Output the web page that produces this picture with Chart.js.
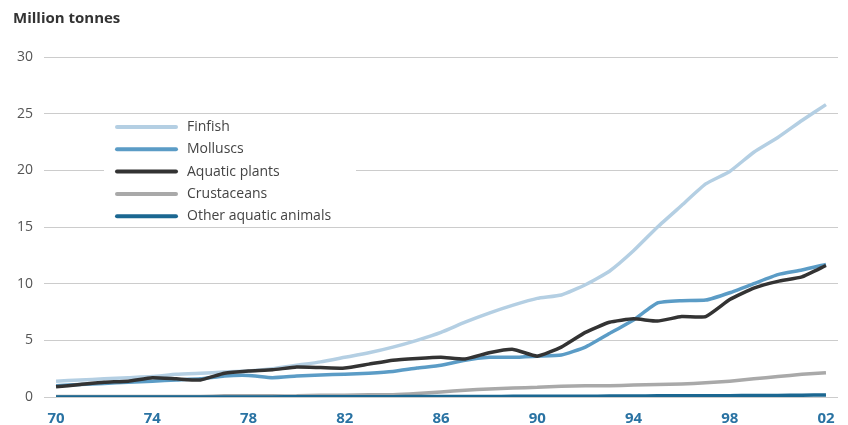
<!DOCTYPE html>
<html>
<head>
<meta charset="utf-8">
<script src="https://cdn.jsdelivr.net/npm/chart.js@4/dist/chart.umd.min.js"></script>
<style>
  html, body { margin: 0; padding: 0; background: #fff; }
  #wrap { width: 848px; height: 425px; position: relative; }
</style>
</head>
<body>
<div id="wrap"><canvas id="myChart"></canvas></div>
<script>
const years = [];
for (let y = 1970; y <= 2002; y++) years.push(y);

const finfish = [1.4, 1.5, 1.6, 1.7, 1.8, 2.0, 2.1, 2.2, 2.3, 2.5, 2.8, 3.1, 3.5, 3.9, 4.4, 5.0, 5.7, 6.6, 7.4, 8.1, 8.7, 9.0, 9.9, 11.1, 12.9, 15.0, 16.9, 18.8, 19.9, 21.6, 22.9, 24.4, 25.8];
const molluscs = [1.0, 1.1, 1.2, 1.3, 1.4, 1.5, 1.6, 1.85, 1.9, 1.7, 1.85, 1.95, 2.0, 2.1, 2.25, 2.55, 2.8, 3.25, 3.5, 3.5, 3.6, 3.7, 4.4, 5.6, 6.8, 8.3, 8.5, 8.55, 9.2, 10.0, 10.8, 11.2, 11.7];
const plants = [0.9, 1.1, 1.3, 1.4, 1.7, 1.6, 1.5, 2.1, 2.3, 2.4, 2.65, 2.6, 2.55, 2.9, 3.25, 3.4, 3.5, 3.35, 3.9, 4.2, 3.6, 4.4, 5.7, 6.6, 6.9, 6.7, 7.1, 7.1, 8.6, 9.6, 10.2, 10.6, 11.6];
const crustaceans = [0.05, 0.05, 0.05, 0.05, 0.05, 0.05, 0.05, 0.1, 0.1, 0.1, 0.1, 0.15, 0.15, 0.2, 0.2, 0.3, 0.45, 0.6, 0.7, 0.8, 0.85, 0.95, 1.0, 1.0, 1.05, 1.1, 1.15, 1.25, 1.4, 1.6, 1.8, 2.0, 2.15];
const otherAnimals = [0.0, 0.0, 0.0, 0.0, 0.0, 0.0, 0.0, 0.01, 0.01, 0.01, 0.02, 0.02, 0.02, 0.03, 0.03, 0.04, 0.04, 0.05, 0.05, 0.06, 0.06, 0.07, 0.07, 0.08, 0.09, 0.1, 0.1, 0.11, 0.12, 0.13, 0.14, 0.16, 0.18];

const yTicks = [0, 5, 10, 15, 20, 25, 30];

const FONT = '"Open Sans", "Noto Sans", sans-serif';

const legendBox = {
    id: 'legendBox',
    afterDraw(chart) {
        const c = chart.ctx;
        c.save();
        // title
        c.fillStyle = '#333';
        c.font = 'bold 15px ' + FONT;
        c.textBaseline = 'middle';
        c.textAlign = 'left';
        c.fillText('Million tonnes', 13, 19);

        // legend inside plot
        c.fillStyle = '#fff';
        c.fillRect(104, 117, 252, 108);
        chart.data.datasets.forEach((ds, i) => {
            const y = 127 + i * 22.3;
            c.strokeStyle = ds.borderColor;
            c.lineWidth = 4;
            c.lineCap = 'round';
            c.beginPath();
            c.moveTo(117, y);
            c.lineTo(176, y);
            c.stroke();
            c.fillStyle = '#444';
            c.font = '14px ' + FONT;
            c.fillText(ds.label, 187, y);
        });
        c.restore();
    }
};

const ctx = document.getElementById('myChart').getContext('2d');

const lineStyle = { borderWidth: 3.5, pointRadius: 0, tension: 0.15, fill: false };

new Chart(ctx, {
    type: 'line',
    data: {
        labels: years,
        datasets: [
            { label: 'Finfish', data: finfish, borderColor: '#b4cfe3', order: 5, ...lineStyle },
            { label: 'Molluscs', data: molluscs, borderColor: '#5b9cc6', order: 3, ...lineStyle },
            { label: 'Aquatic plants', data: plants, borderColor: '#333333', order: 2, ...lineStyle },
            { label: 'Crustaceans', data: crustaceans, borderColor: '#a9a9a9', order: 4, ...lineStyle },
            { label: 'Other aquatic animals', data: otherAnimals, borderColor: '#1b6791', order: 1, ...lineStyle }
        ]
    },
    options: {
        responsive: true,
        maintainAspectRatio: false,
        animation: false,
        layout: { padding: { top: 57, right: 10, bottom: 0, left: 0 } },
        plugins: {
            legend: { display: false },
            tooltip: { enabled: false }
        },
        scales: {
            x: {
                offset: true,
                grid: { display: false, drawTicks: false },
                border: { display: false },
                afterFit: (scale) => { scale.height = 28; },
                ticks: {
                    autoSkip: false,
                    maxRotation: 0,
                    padding: 13,
                    color: '#2a73a3',
                    font: { family: FONT, size: 15, weight: 'bold' },
                    callback: function (value, index) {
                        const yr = years[index];
                        if ((yr - 1970) % 4 !== 0) return '';
                        return String(yr % 100).padStart(2, '0');
                    }
                }
            },
            y: {
                min: 0,
                max: 30,
                afterFit: (scale) => { scale.width = 44; },
                afterBuildTicks: (scale) => { scale.ticks = yTicks.map(v => ({ value: v })); },
                grid: { color: '#cccccc', lineWidth: 1, drawTicks: false },
                border: { display: false },
                ticks: {
                    padding: 11,
                    color: '#555',
                    font: { family: FONT, size: 14 }
                }
            }
        }
    },
    plugins: [legendBox]
});
</script>
</body>
</html>
